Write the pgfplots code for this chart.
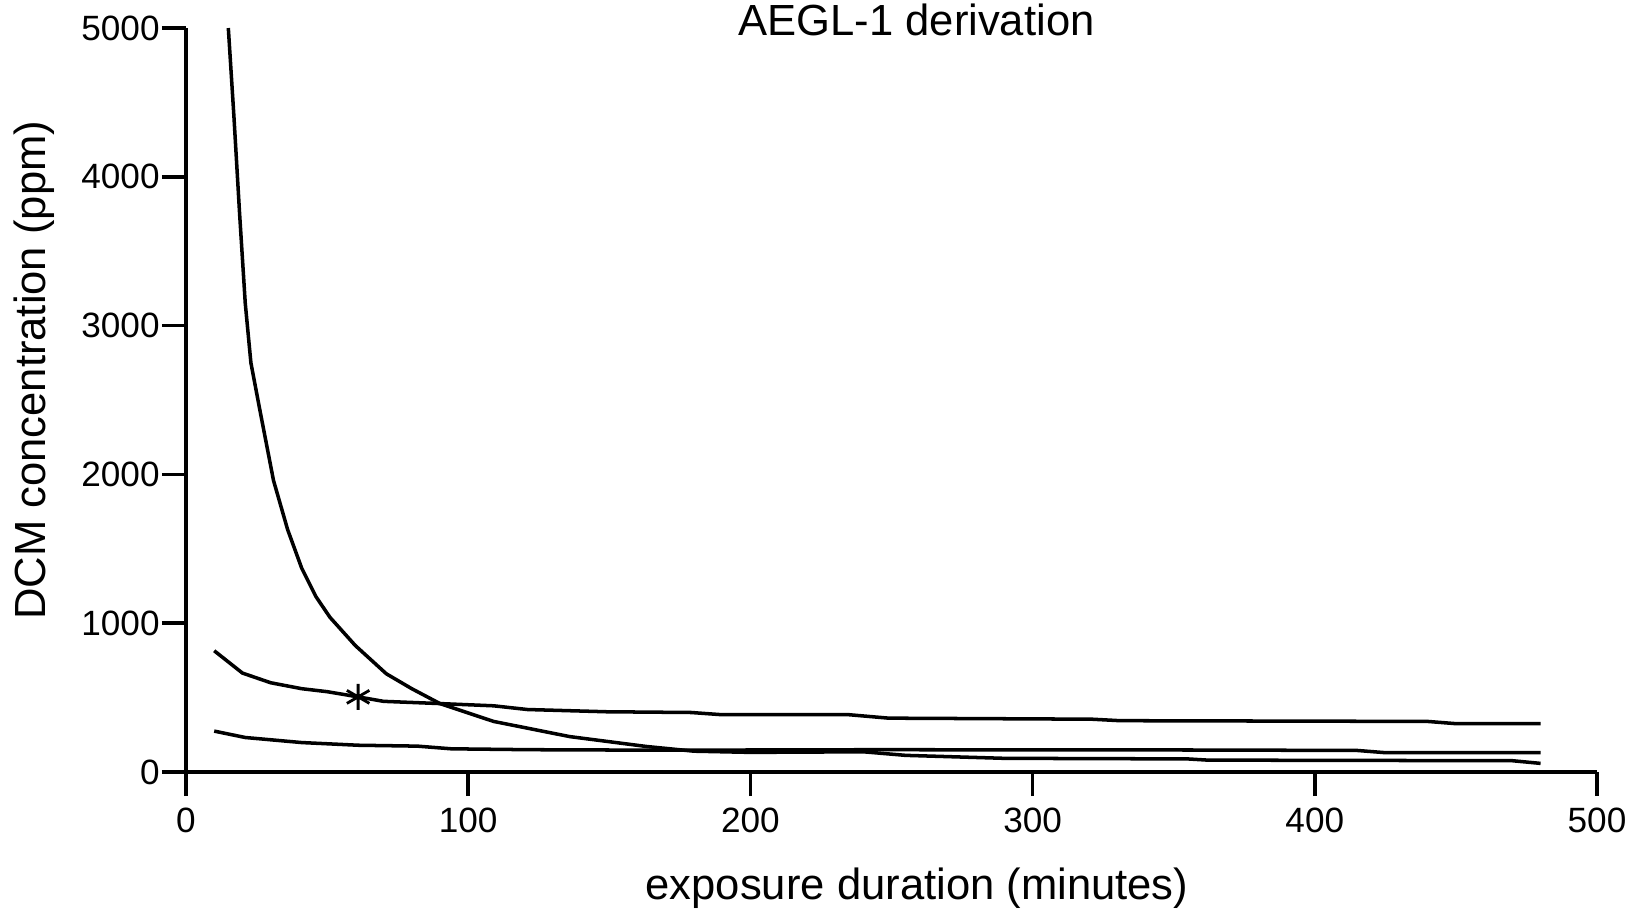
\documentclass[border=0pt]{standalone}
\usepackage{fontspec}
\setmainfont{Liberation Sans}
\usepackage{pgfplots}
\pgfplotsset{compat=1.18}

\begin{document}
\begin{tikzpicture}
\begin{axis}[
    scale only axis,
    width=141.1mm,
    height=74.4mm,
    xmin=0, xmax=500,
    ymin=0, ymax=5000,
    axis x line*=bottom,
    axis y line*=left,
    tick pos=left,
    tick align=outside,
    major tick length=2.4mm,
    xtick={0,100,...,500},
    ytick={0,1000,...,5000},
    axis line style={line width=1pt},
    every tick/.style={black, line width=1pt},
    tick label style={font=\fontsize{10}{12}\selectfont},
    yticklabel style={xshift=1mm},
    /pgf/number format/assume math mode=true,
    /pgf/number format/1000 sep={},
    clip=false,
]
% steep curve
\addplot[black, line width=1pt] coordinates {
    (15,5000) (17,4400) (19,3750) (21,3150) (23,2750) (26,2450)
    (31,1960) (36,1630) (41,1370) (46,1180) (51,1040) (60,850)
    (71,660) (80,560) (90,460) (109,340) (136,238) (163,172)
    (180,140) (200,132) (240,136) (255,112) (290,92) (355,88)
    (362,80) (470,76) (480,58)
};
% upper flat curve
\addplot[black, line width=1pt] coordinates {
    (10,815) (20,665) (30,600) (41,560) (50,540) (61,505) (70,475)
    (90,460) (109,445) (121,420) (149,405) (179,400) (190,385)
    (235,385) (249,362) (321,355) (331,345) (440,340) (450,325)
    (480,325)
};
% lower flat curve
\addplot[black, line width=1pt] coordinates {
    (10,275) (21,232) (41,198) (61,180) (82,174) (94,156) (122,150)
    (163,147) (200,148) (245,150) (356,148) (415,145) (425,130)
    (480,130)
};
% point of departure
\addplot[only marks, mark=asterisk, mark size=1.3mm, black,
    mark options={line width=0.8pt}] coordinates {(61,505)};
\end{axis}
\node[anchor=base, font=\fontsize{12.4}{15}\selectfont] at (73.05mm,73.67mm) {AEGL-1 derivation};
\node[anchor=base, rotate=90, font=\fontsize{12.4}{15}\selectfont] at (-14.1mm,40.17mm) {DCM concentration (ppm)};
\node[anchor=base, font=\fontsize{12.4}{15}\selectfont] at (73.1mm,-12.73mm) {exposure duration (minutes)};
\pgfresetboundingbox
\useasboundingbox (-18.6mm,-14.63mm) rectangle (144.9mm,77.2mm);
\end{tikzpicture}
\end{document}
